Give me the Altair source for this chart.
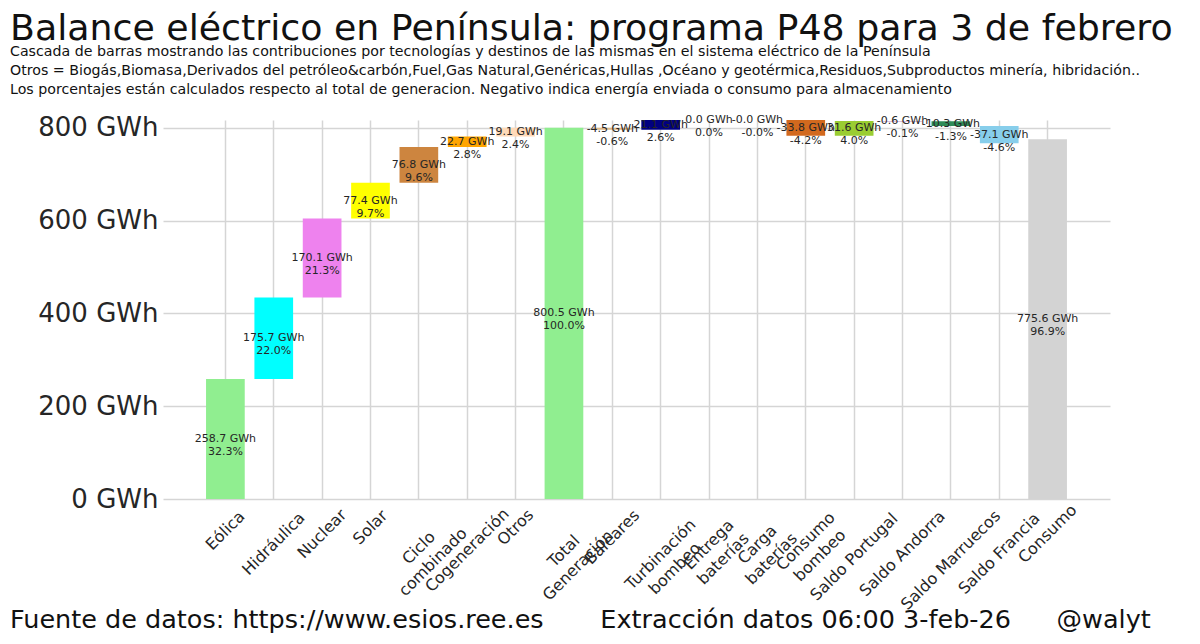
import altair as alt
import pandas as pd

# ---- data ----
categories = ["Eólica", "Hidráulica", "Nuclear", "Solar", "Ciclo\ncombinado",
              "Cogeneración", "Otros", "Total\nGeneración", "Baleares",
              "Turbinación\nbombeo", "Entrega\nbaterías", "Carga\nbaterías",
              "Consumo\nbombeo", "Saldo Portugal", "Saldo Andorra",
              "Saldo Marruecos", "Saldo Francia", "Consumo"]
values = [258.7, 175.7, 170.1, 77.4, 76.8, 22.7, 19.1, 800.5, -4.5, 21.1,
          0.0, -0.0, -33.8, 31.6, -0.6, -10.3, -37.1, 775.6]
percents = [32.3, 22.0, 21.3, 9.7, 9.6, 2.8, 2.4, 100.0, -0.6, 2.6,
            0.0, -0.0, -4.2, 4.0, -0.1, -1.3, -4.6, 96.9]
kinds = ["step"] * 7 + ["total"] + ["step"] * 9 + ["total"]
colors = ["#90EE90", "#00FFFF", "#EE82EE", "#FFFF00", "#CD853F", "#FFA500",
          "#FFDAB9", "#90EE90", "#DEB887", "#000080", "#FF69B4", "#4682B4",
          "#D2691E", "#9ACD32", "#800080", "#2E8B57", "#87CEEB", "#D3D3D3"]
y_ticks = [0, 200, 400, 600, 800]

title_text = "Balance eléctrico en Península: programa P48 para 3 de febrero"
subtitle_lines = [
    "Cascada de barras mostrando las contribuciones por tecnologías y destinos de las mismas en el sistema eléctrico de la Península",
    "Otros = Biogás,Biomasa,Derivados del petróleo&carbón,Fuel,Gas Natural,Genéricas,Hullas ,Océano y geotérmica,Residuos,Subproductos minería, hibridación..",
    "Los porcentajes están calculados respecto al total de generacion. Negativo indica energía enviada o consumo para almacenamiento",
]
nb = "\u00a0"
footer_text = ("Fuente de datos: https://www.esios.ree.es" + nb * 7 +
               "Extracción datos 06:00 3-feb-26" + nb * 5 + "\u2009" + "@walyt")

# ---- waterfall table built from the arrays ----
rows = []
running = 0.0
for cat, v, p, k, c in zip(categories, values, percents, kinds, colors):
    if k == "total":
        start, end = 0.0, v
    else:
        start, end = running, running + v
    running = end
    lines = cat.split("\n")
    rows.append({
        "cat": cat, "start": start, "end": end, "mid": (start + end) / 2,
        "lab": f"{v:.1f} GWh\n{p:.1f}%", "color": c,
        "nl": len(lines), "ml": max(len(s) for s in lines),
    })
df = pd.DataFrame(rows)
top = float(max(df["start"].max(), df["end"].max()))

W, H = 947, 379
grid_color = "#d5d5d5"

x_enc = alt.X("cat:N", sort=categories,
              scale=alt.Scale(paddingInner=0.2, paddingOuter=0.89),
              axis=alt.Axis(labels=False, ticks=False, domain=False, grid=True,
                            gridColor=grid_color, gridWidth=1.5, title=None))

y_scale = alt.Scale(domain=[0, top], nice=False, zero=True)

bars = alt.Chart(df).mark_bar().encode(
    x=x_enc,
    y=alt.Y("start:Q", scale=y_scale,
            axis=alt.Axis(values=y_ticks, labelExpr="datum.value + ' GWh'",
                          labelFontSize=26, labelColor="#262626",
                          labelPadding=5, ticks=False, domain=False,
                          grid=True, gridColor=grid_color, gridWidth=1.5,
                          title=None)),
    y2="end:Q",
    color=alt.Color("color:N", scale=None, legend=None),
)

value_text = alt.Chart(df).mark_text(
    lineBreak="\n", fontSize=11, lineHeight=13, color="#262626",
    align="center", baseline="middle",
).encode(x=x_enc, y=alt.Y("mid:Q", scale=y_scale, axis=None), text="lab:N")

cat_labels = alt.Chart(df).transform_calculate(
    ly=f"{H} + 5.5 + (datum.ml * 16 * 0.58 + 18.6 + (datum.nl - 1) * 21) * 0.3536"
).mark_text(
    angle=315, fontSize=16, lineBreak="\n", lineHeight=20, color="#262626",
    align="center", baseline="middle",
).encode(x=x_enc, y=alt.Y("ly:Q", scale=None, axis=None), text="cat:N")

footer = alt.Chart(pd.DataFrame({"t": [footer_text]})).mark_text(
    fontSize=25.5, color="#111111", align="left", baseline="alphabetic",
).encode(x=alt.value(-153), y=alt.value(508), text="t:N")

chart = alt.layer(bars, value_text, cat_labels, footer).resolve_scale(
    y="independent"
).properties(
    width=W, height=H,
    title=alt.TitleParams(
        text=title_text, subtitle=subtitle_lines, anchor="start",
        frame="group", dx=-153, fontSize=36.3, fontWeight="normal",
        color="#111111", subtitleFontSize=14.2, subtitleColor="#111111",
        subtitleLineHeight=19, subtitlePadding=-2, offset=17,
    ),
    padding={"left": 155, "top": 112, "right": 80, "bottom": 136},
    autosize=alt.AutoSizeParams(type="none"),
    background="white",
).configure(
    font="DejaVu Sans",
).configure_view(stroke=None)

chart.save("out.html", embed_options={"renderer": "svg", "actions": False})
